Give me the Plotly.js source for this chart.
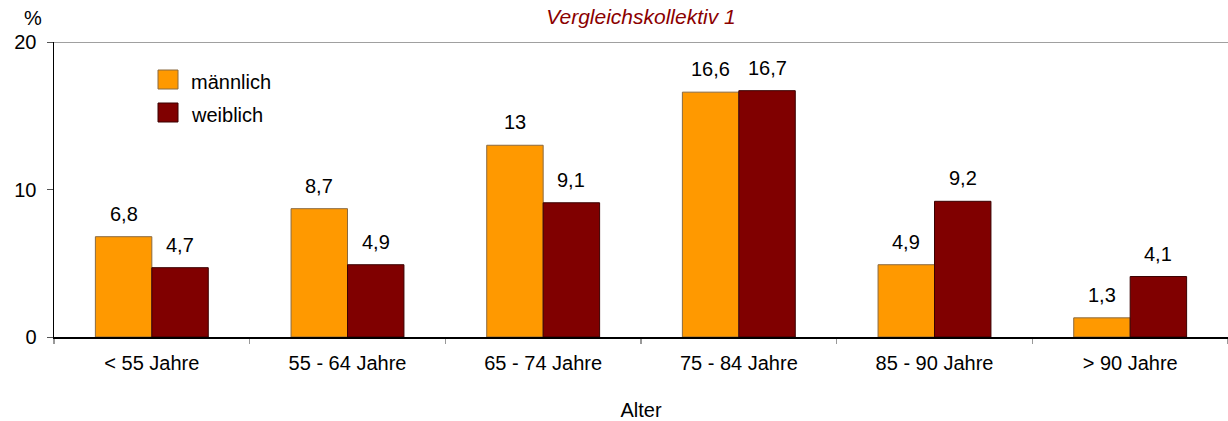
<!DOCTYPE html>
<html>
<head>
<meta charset="utf-8">
<script src="https://cdn.plot.ly/plotly-3.0.1.min.js"></script>
<style>html,body{margin:0;padding:0;background:#fff;}#chart{width:1228px;height:421px;}</style>
</head>
<body>
<div id="chart"></div>
<script>
var categories = ['< 55 Jahre', '55 - 64 Jahre', '65 - 74 Jahre', '75 - 84 Jahre', '85 - 90 Jahre', '> 90 Jahre'];
var seriesNames = ['männlich', 'weiblich'];
var maleValues = [6.8, 8.7, 13, 16.6, 4.9, 1.3];
var femaleValues = [4.7, 4.9, 9.1, 16.7, 9.2, 4.1];
var yTickValues = [0, 10, 20];
var chartTitle = 'Vergleichskollektiv 1';
var xTitle = 'Alter';
var yTitle = '%';

var FONT = 'Liberation Sans, Arial, sans-serif';
var FS = 20;
var orange = '#FF9900';
var darkred = '#800000';

var traces = [
  {type: 'bar', name: seriesNames[0], x: categories, y: maleValues,
   marker: {color: orange, line: {color: '#8a6a40', width: 1}}, hoverinfo: 'none'},
  {type: 'bar', name: seriesNames[1], x: categories, y: femaleValues,
   marker: {color: darkred, line: {color: '#3a0000', width: 1}}, hoverinfo: 'none'}
];

var W = 1228, H = 421;
var m = {l: 54, r: 0, t: 42, b: 84};
var plotW = W - m.l - m.r;
var plotH = H - m.t - m.b;
var bargap = 0.423;
var barPx = plotW / categories.length * (1 - bargap) / 2;

function fmt(v) { return String(v).replace('.', ','); }

var annotations = [];
[maleValues, femaleValues].forEach(function (vals, si) {
  vals.forEach(function (v, i) {
    annotations.push({
      x: categories[i], y: v, xref: 'x', yref: 'y',
      text: fmt(v), showarrow: false,
      xanchor: 'center', yanchor: 'bottom',
      xshift: (si === 0 ? -1 : 1) * barPx / 2, yshift: 10,
      font: {family: FONT, size: FS, color: '#000'}
    });
  });
});
annotations.push({
  xref: 'paper', yref: 'paper', x: 0, y: 1, xshift: -21, yshift: 24,
  xanchor: 'center', yanchor: 'middle', showarrow: false,
  text: yTitle, font: {family: FONT, size: FS, color: '#000'}
});
var legendColors = [orange, darkred];
var legendLines = ['#8a6a40', '#3a0000'];
var shapes = [
  {type: 'line', xref: 'paper', yref: 'y', x0: 0, x1: 1, y0: yTickValues[2], y1: yTickValues[2],
   line: {color: '#808080', width: 1.5}, layer: 'below'}
];
seriesNames.forEach(function (nm, i) {
  var top = 28 + i * 33;
  shapes.push({
    type: 'rect', xref: 'paper', yref: 'paper',
    x0: 104 / plotW, x1: 124 / plotW,
    y0: 1 - (top + 19) / plotH, y1: 1 - top / plotH,
    fillcolor: legendColors[i], line: {color: legendLines[i], width: 1}
  });
  annotations.push({
    xref: 'paper', yref: 'paper', x: 135 / plotW, y: 1 - (top + 12) / plotH,
    xanchor: 'left', yanchor: 'middle', showarrow: false,
    text: nm, font: {family: FONT, size: FS, color: '#000'}
  });
});

var layout = {
  width: W, height: H,
  margin: m,
  paper_bgcolor: '#fff', plot_bgcolor: '#fff',
  showlegend: false,
  barmode: 'group', bargap: bargap, bargroupgap: 0,
  font: {family: FONT, size: FS, color: '#000'},
  title: {
    text: chartTitle, x: 0.5, xref: 'paper', xanchor: 'center',
    y: 1 - 17 / H, yanchor: 'middle',
    font: {family: FONT, size: 21, color: '#8B0000', style: 'italic'}
  },
  xaxis: {
    type: 'category', showgrid: false, zeroline: false,
    showline: true, linecolor: '#000', linewidth: 1.5,
    ticks: 'outside', tickson: 'boundaries', ticklen: 5, tickcolor: '#999', tickwidth: 1.5,
    ticklabelstandoff: 7,
    tickfont: {family: FONT, size: FS, color: '#000'},
    title: {text: xTitle, standoff: 30, font: {family: FONT, size: FS, color: '#000'}}
  },
  yaxis: {
    range: [0, 20], tickvals: yTickValues, showgrid: false, zeroline: false,
    showline: true, linecolor: '#000', linewidth: 1.5,
    ticks: 'outside', ticklen: 6, tickcolor: '#555', tickwidth: 1,
    ticklabelstandoff: 6,
    tickfont: {family: FONT, size: FS, color: '#000'}
  },
  annotations: annotations,
  shapes: shapes
};

Plotly.newPlot('chart', traces, layout, {displayModeBar: false, staticPlot: true});
</script>
</body>
</html>
